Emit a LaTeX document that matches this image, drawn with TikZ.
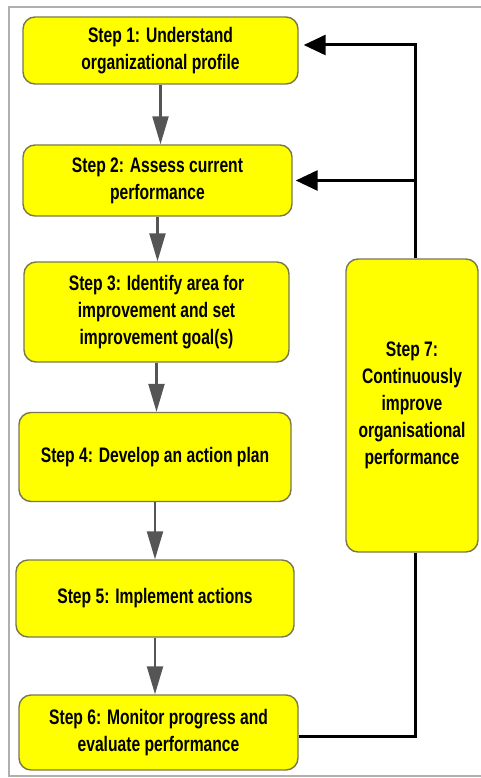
\documentclass[tikz,border=0pt]{standalone}
\usepackage{fontspec}
\setmainfont{Liberation Sans}[FakeStretch=0.745]
\usetikzlibrary{arrows.meta,calc}
\begin{document}
\begin{tikzpicture}[x=1pt,y=-1pt,
  stepbox/.style={draw=boxborder,line width=1.4pt,fill=stepyellow,rounded corners=12pt,
    align=center,inner sep=0pt,font=\fontsize{21}{27}\selectfont\bfseries,text=black},
  garrow/.style={draw=arrowgray,line width=2.2pt,-{Triangle[length=28pt,width=16pt]}},
  bline/.style={draw=black,line width=3pt},
  barrow/.style={draw=black,line width=3pt,-{Triangle[length=22pt,width=20pt]}}]
\definecolor{stepyellow}{RGB}{255,255,0}
\definecolor{boxborder}{RGB}{120,120,80}
\definecolor{arrowgray}{RGB}{85,85,85}
\definecolor{framegray}{RGB}{175,175,175}
\useasboundingbox (0,0) rectangle (481,778);
\draw[framegray,line width=1.5pt] (9,7) rectangle (490,776);
\node[stepbox,minimum width=275pt,minimum height=67pt] (n1) at (160.5,50.5) {Step 1: Understand\\organizational profile};
\node[stepbox,minimum width=269pt,minimum height=71pt] (n2) at (157.5,180.5) {Step 2: Assess current\\performance};
\node[stepbox,minimum width=265pt,minimum height=100pt] (n3) at (156.5,312) {Step 3: Identify area for\\improvement and set\\improvement goal(s)};
\node[stepbox,minimum width=272pt,minimum height=89pt] (n4) at (155,457) {Step 4: Develop an action plan};
\node[stepbox,minimum width=278pt,minimum height=77pt] (n5) at (155,598.5) {Step 5: Implement actions};
\node[stepbox,minimum width=279pt,minimum height=75pt] (n6) at (158.5,732.5) {Step 6: Monitor progress and\\evaluate performance};
\node[stepbox,minimum width=132pt,minimum height=293pt] (n7) at (412,405.5) {Step 7:\\Continuously\\improve\\organisational\\performance};
% gray step arrows
\draw[garrow] (n1.south) -- (n1.south |- n2.north);
\draw[garrow] (n2.south) -- (n2.south |- n3.north);
\draw[garrow] (n3.south) -- (n3.south |- n4.north);
\draw[garrow] (n4.south) -- (n4.south |- n5.north);
\draw[garrow] (n5.south) -- (n5.south |- n6.north);
% feedback loop
\coordinate (fbx) at (415,0);
\coordinate (t1) at (415,45);
\coordinate (e6) at ([yshift=-4pt]n6.east);
\draw[bline] (e6) -| (fbx |- n7.south);
\draw[bline] (fbx |- n7.north) -- ([yshift=1.5pt]t1);
\draw[barrow] (t1) -- ([xshift=5pt]t1 -| n1.east);
\draw[barrow] (fbx |- n2.east) -- ([xshift=3pt]n2.east);
\end{tikzpicture}
\end{document}
